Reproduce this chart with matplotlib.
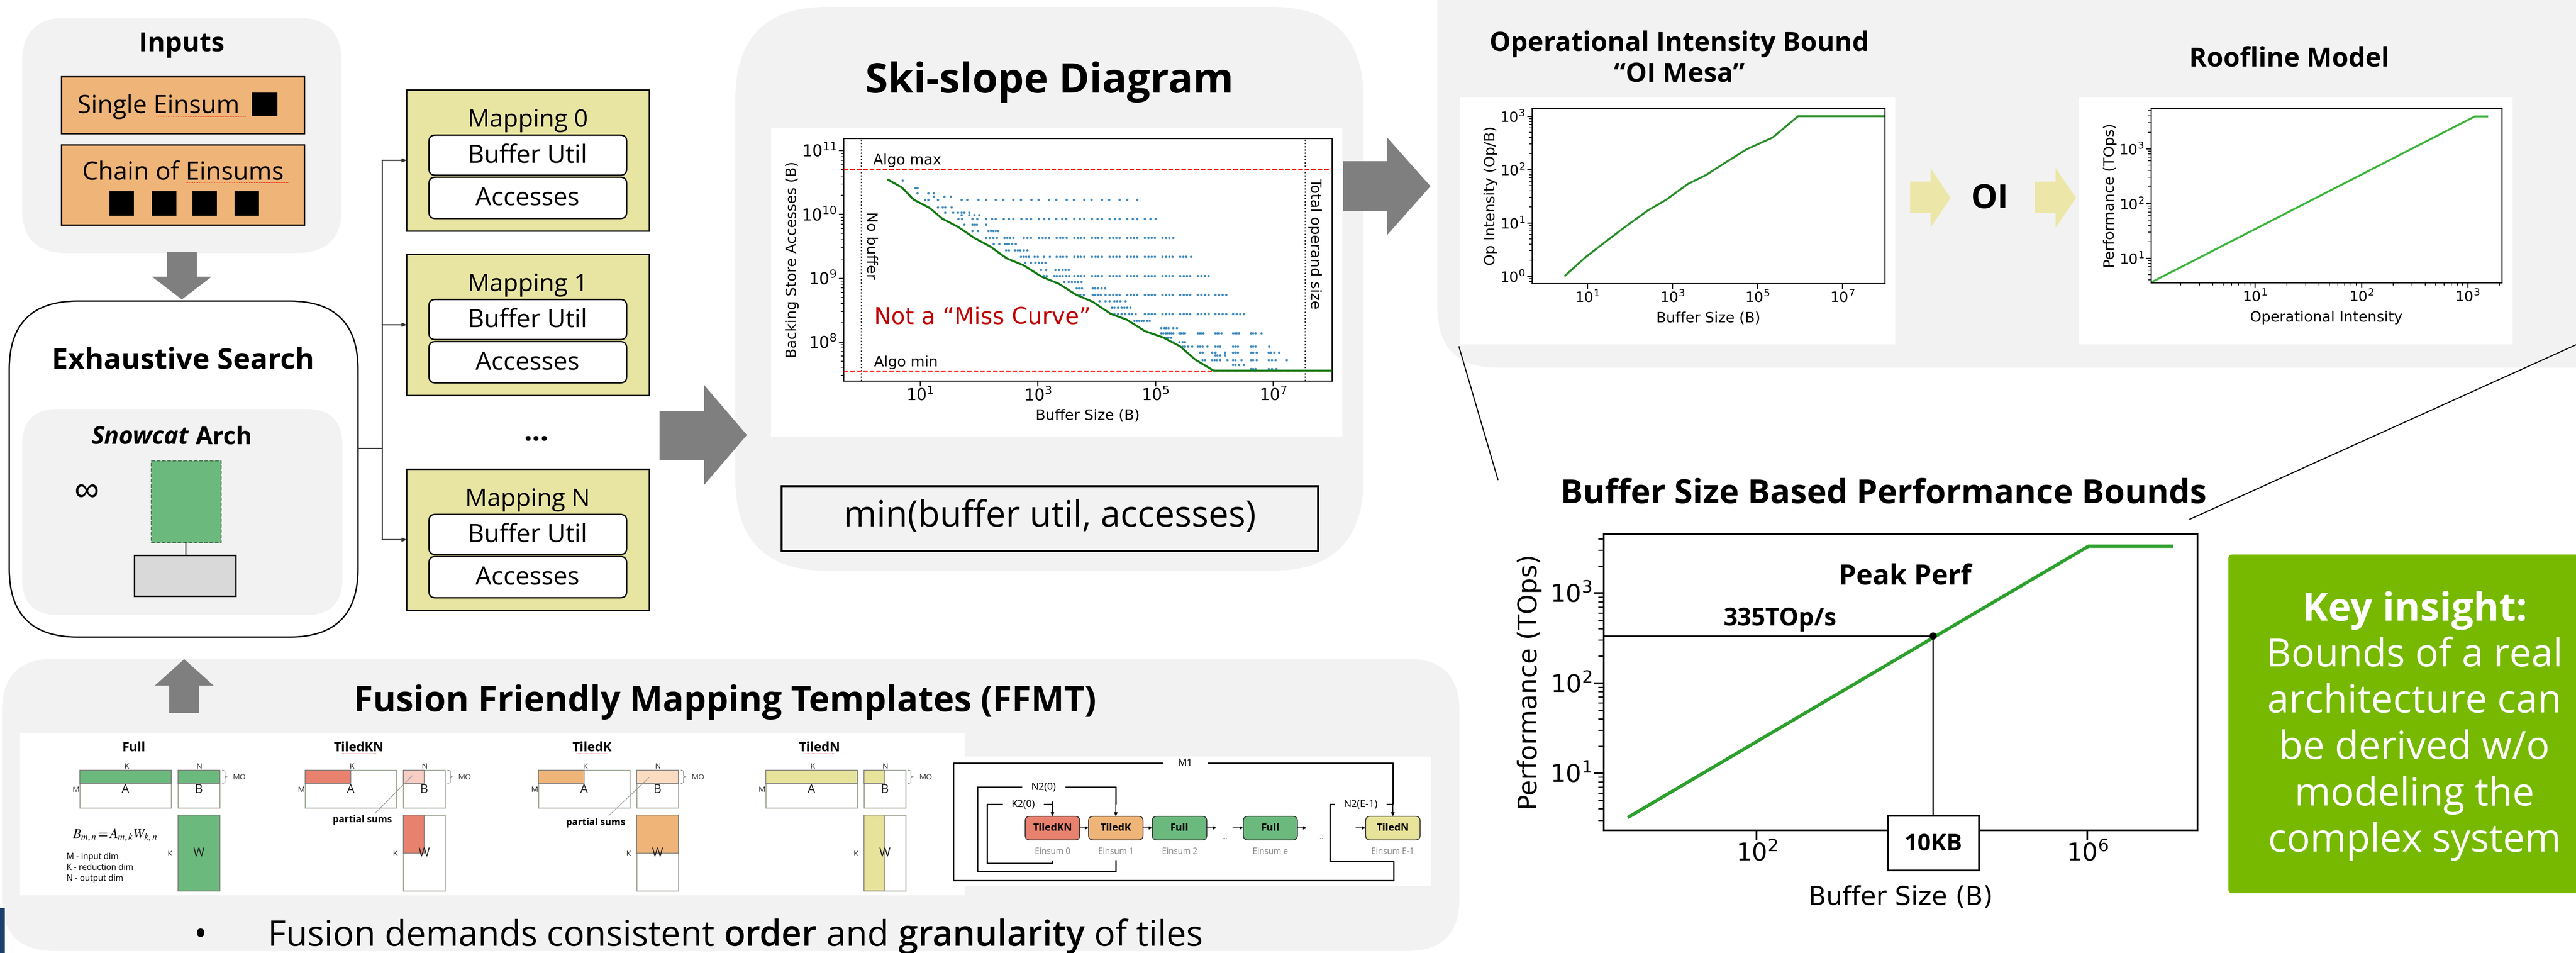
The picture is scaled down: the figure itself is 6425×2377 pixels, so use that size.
import numpy as np
import matplotlib
matplotlib.use('Agg')
import matplotlib.pyplot as plt
from matplotlib.patches import FancyBboxPatch, Rectangle, Polygon
from matplotlib.ticker import NullLocator

# canvas in pixels
W, H = 6425, 2377
SLIDE = ['Open Sans', 'DejaVu Sans']
PANEL = '#f2f2f2'
ARROW = '#7f7f7f'
C_GREEN = '#6cb97e'
C_RED = '#e8826e'
C_ORANGE = '#efb478'
C_YELLOW = '#e8e39b'

# ---------------- data ----------------
# ski-slope: min accesses per buffer size (log10 values)
ski_logx = [0.46, 0.69, 0.89, 1.16, 1.38, 1.65, 1.92, 2.20, 2.47, 2.76, 3.07,
            3.36, 3.65, 3.93, 4.24, 4.51, 4.82, 5.13, 5.42, 5.68, 5.99, 8.0]
ski_logy = [10.54, 10.42, 10.23, 10.10, 9.93, 9.80, 9.63, 9.49, 9.31, 9.20, 9.02,
            8.91, 8.74, 8.63, 8.44, 8.35, 8.17, 8.07, 7.93, 7.72, 7.55, 7.55]
algo_max = 5.1e10
algo_min = 3.5e7
no_buffer = 1.0
total_operand = 3.5e7

# individual mappings (log10 accesses per row, log10 buffer sizes)
scatter_logy = [10.53, 10.41, 10.33, 10.28, 10.23,
                10.11, 10.03, 9.99, 9.93,
                9.84, 9.74, 9.635,
                9.54, 9.44, 9.334,
                9.24, 9.13, 9.035,
                8.94, 8.84, 8.74,
                8.64, 8.54, 8.436,
                8.33, 8.22, 8.136,
                8.07, 8.00, 7.932,
                7.836, 7.79, 7.715, 7.64, 7.578]
scatter_logx = [
    [0.70], [0.92, 0.95], [0.95, 1.14, 1.23], [1.23, 1.41, 1.52],
    [1.08, 1.14, 1.30, 1.70, 1.80, 1.99, 2.12, 2.28, 2.41, 2.58, 2.71, 2.89, 3.01, 3.19,
     3.31, 3.49, 3.61, 3.79, 3.91, 4.09, 4.21, 4.39, 4.52, 4.69],
    [1.30, 1.38, 1.42, 1.53], [1.42, 1.56, 1.64, 1.70, 1.75, 1.83], [1.70, 1.83, 1.92, 2.00],
    [1.65, 1.71, 1.89, 1.97, 2.12, 2.22, 2.28, 2.42, 2.51, 2.58, 2.72, 2.81, 2.88, 3.02, 3.11,
     3.19, 3.31, 3.41, 3.48, 3.62, 3.71, 3.79, 3.92, 4.01, 4.09, 4.22, 4.31, 4.39, 4.52, 4.61,
     4.69, 4.82, 4.91, 5.00],
    [1.75, 1.89, 1.93, 1.96, 2.12], [1.89, 1.98, 2.16, 2.20, 2.24, 2.28, 2.32],
    [2.12, 2.18, 2.24, 2.30, 2.43, 2.48, 2.53, 2.58, 2.76, 2.82, 2.88, 3.02, 3.08, 3.13, 3.19,
     3.32, 3.38, 3.43, 3.49, 3.62, 3.68, 3.73, 3.79, 3.92, 3.98, 4.03, 4.09, 4.22, 4.28, 4.33,
     4.39, 4.52, 4.58, 4.63, 4.69, 4.82, 4.88, 4.93, 4.99, 5.12, 5.18, 5.23, 5.30],
    [2.25, 2.34, 2.44, 2.47, 2.51, 2.56, 2.62], [2.46, 2.51, 2.61, 2.66, 2.70, 2.76, 2.82],
    [2.71, 2.76, 2.80, 2.85, 2.94, 3.00, 3.10, 3.20, 3.32, 3.38, 3.43, 3.49, 3.62, 3.68, 3.73,
     3.79, 3.92, 3.98, 4.03, 4.09, 4.22, 4.28, 4.33, 4.39, 4.52, 4.58, 4.63, 4.69, 4.82, 4.88,
     4.93, 4.99, 5.12, 5.18, 5.23, 5.29, 5.42, 5.47, 5.52, 5.60],
    [2.78, 2.88, 2.96, 3.02, 3.07, 3.13], [3.05, 3.14, 3.30, 3.36, 3.42, 3.47, 3.52],
    [3.10, 3.15, 3.28, 3.32, 3.37, 3.42, 3.48, 3.53, 3.62, 3.68, 3.73, 3.79, 3.92, 3.98, 4.03,
     4.09, 4.22, 4.28, 4.33, 4.39, 4.52, 4.58, 4.63, 4.69, 4.82, 4.88, 4.93, 4.99, 5.12, 5.18,
     5.23, 5.29, 5.42, 5.48, 5.53, 5.59, 5.72, 5.78, 5.84, 5.90],
    [3.45, 3.52, 3.58, 3.63, 3.68, 3.74], [3.66, 3.70, 3.75, 3.93, 3.97, 4.02, 4.08, 4.14],
    [3.72, 3.78, 3.93, 3.97, 4.02, 4.07, 4.15, 4.22, 4.28, 4.33, 4.39, 4.52, 4.58, 4.63, 4.69,
     4.82, 4.88, 4.93, 4.99, 5.12, 5.18, 5.23, 5.29, 5.42, 5.48, 5.53, 5.59, 5.72, 5.78, 5.84,
     5.90, 6.02, 6.08, 6.14, 6.20],
    [4.05, 4.15, 4.22, 4.30, 4.35, 4.40, 4.49], [4.26, 4.30, 4.36, 4.42, 4.47, 4.52, 4.57],
    [4.30, 4.36, 4.42, 4.48, 4.55, 4.60, 4.66, 4.82, 4.88, 4.93, 4.99, 5.12, 5.18, 5.23, 5.29,
     5.42, 5.48, 5.53, 5.59, 5.72, 5.78, 5.84, 5.90, 6.02, 6.08, 6.14, 6.20, 6.32, 6.38, 6.44,
     6.50],
    [4.64, 4.68, 4.72, 4.76, 4.80, 4.86, 4.90], [5.10, 5.15, 5.18, 5.22, 5.30, 5.36],
    [5.10, 5.13, 5.17, 5.20, 5.23, 5.27, 5.30, 5.40, 5.43, 5.47, 5.50, 5.72, 5.75, 5.78, 5.81,
     6.02, 6.05, 6.08, 6.12, 6.32, 6.35, 6.38, 6.42, 6.62, 6.66, 6.70, 6.80],
    [5.16, 5.19, 5.22, 5.26], [5.30, 5.40, 5.46, 5.50],
    [5.46, 5.50, 5.55, 5.62, 5.72, 5.76, 5.80, 5.88, 6.02, 6.06, 6.10, 6.32, 6.36, 6.40, 6.62,
     6.66, 6.70, 6.93],
    [5.76, 5.80, 5.96, 6.02, 6.18, 6.32, 6.36, 6.40, 6.62, 6.66, 6.72, 6.92, 6.96, 7.02, 7.10],
    [6.02, 6.05, 6.10, 6.18],
    [5.80, 5.84, 5.96, 6.00, 6.04, 6.10, 6.22, 6.32, 6.36, 6.46, 6.62, 6.66, 6.72, 6.92, 6.98,
     7.04, 7.23],
    [6.32, 6.36, 6.42, 6.50],
    [6.62, 6.66, 6.70, 6.92, 6.98, 7.05],
]

# OI mesa (log10)
oi_logx = [0.48, 0.95, 1.47, 1.90, 2.42, 2.85, 3.37, 3.80, 4.23, 4.75, 5.36, 5.96, 8.0]
oi_logy = [0.01, 0.35, 0.67, 0.93, 1.23, 1.43, 1.73, 1.90, 2.12, 2.38, 2.60, 3.00, 3.00]

# roofline
roof_oi = [1.05, 1170, 1530]
roof_perf = [3.6, 3900, 3900]

# buffer-size based bound
bound_buf = [2.86, 1.035e6, 1.05e7]
bound_perf = [3.27, 3311, 3311]
peak_buf = 1.35e4
peak_perf = 335

mappings = ['Mapping 0', 'Mapping 1', 'Mapping N']
ffmt_names = ['Full', 'TiledKN', 'TiledK', 'TiledN']
ffmt_colors = [C_GREEN, C_RED, C_ORANGE, C_YELLOW]
ffmt_light = [C_GREEN, '#f7cdc4', '#fbdcc0', C_YELLOW]
a_band = [1.0, 0.5, 0.5, 1.0]
b_band = [1.0, 0.5, 1.0, 0.5]
w_frac = [(1.0, 1.0), (0.5, 0.5), (1.0, 0.5), (0.5, 1.0)]
einsum_names = ['TiledKN', 'TiledK', 'Full', 'Full', 'TiledN']
einsum_colors = [C_RED, C_ORANGE, C_GREEN, C_GREEN, C_YELLOW]
einsum_labels = ['Einsum 0', 'Einsum 1', 'Einsum 2', 'Einsum e', 'Einsum E-1']
insight = ['Bounds of a real', 'architecture can', 'be derived w/o',
           'modeling the', 'complex system']


def frac(x0, y0, x1, y1):
    return [x0 / W, 1 - y1 / H, (x1 - x0) / W, (y1 - y0) / H]


def rbox(ax, x0, y0, x1, y1, r=0, fc='none', ec='none', lw=0, ls='-', z=1):
    style = f"round,pad=0,rounding_size={r}" if r else "square,pad=0"
    ax.add_patch(FancyBboxPatch((x0, y0), x1 - x0, y1 - y0, boxstyle=style,
                                fc=fc, ec=ec, lw=lw, ls=ls, zorder=z))


def txt(ax, x, y, s, size, weight='normal', color='black', ha='center', va='baseline', **kw):
    return ax.text(x, y, s, fontsize=size, fontweight=weight, color=color, ha=ha, va=va,
                   family=SLIDE, zorder=5, **kw)


def arrow_right(ax, sx0, sx1, sy0, sy1, tip, hy0, hy1, color):
    ty = (hy0 + hy1) / 2
    ax.add_patch(Polygon([(sx0, sy0), (sx1, sy0), (sx1, hy0), (tip, ty), (sx1, hy1),
                          (sx1, sy1), (sx0, sy1)], closed=True, fc=color, ec='none', zorder=2))


def arrow_vert(ax, sx0, sx1, sy0, sy1, tip, hx0, hx1, color):
    tx = (hx0 + hx1) / 2
    ax.add_patch(Polygon([(sx0, sy0), (sx0, sy1), (hx0, sy1), (tx, tip), (hx1, sy1),
                          (sx1, sy1), (sx1, sy0)], closed=True, fc=color, ec='none', zorder=2))


def small_arrow(ax, x0, y0, x1, y1, lw=2, color='black', ms=18):
    ax.annotate('', xy=(x1, y1), xytext=(x0, y0),
                arrowprops=dict(arrowstyle='-|>', color=color, lw=lw, mutation_scale=ms,
                                shrinkA=0, shrinkB=0), zorder=4)


fig = plt.figure(figsize=(W / 100, H / 100), dpi=100)
bg = fig.add_axes([0, 0, 1, 1])
bg.set_xlim(0, W)
bg.set_ylim(H, 0)
bg.axis('off')

# ---------------- left column ----------------
rbox(bg, 55, 44, 852, 631, r=110, fc=PANEL)
txt(bg, 453, 128, 'Inputs', 48, 'bold')
rbox(bg, 153, 191, 759, 333, fc=C_ORANGE, ec='black', lw=2.5, z=2)
rbox(bg, 153, 361, 759, 561, fc=C_ORANGE, ec='black', lw=2.5, z=2)
txt(bg, 193, 282, 'Single Einsum', 45, ha='left')
bg.plot([390, 614], [290, 290], color='red', ls=(0, (1, 1)), lw=1.5, zorder=6)
bg.add_patch(Rectangle((628, 231), 64, 59, fc='black', zorder=3))
txt(bg, 456, 447, 'Chain of Einsums', 45)
bg.plot([463, 720], [455, 455], color='red', ls=(0, (1, 1)), lw=1.5, zorder=6)
for sx in [273, 379, 480, 585]:
    bg.add_patch(Rectangle((sx, 477), 61, 61, fc='black', zorder=3))

arrow_vert(bg, 416, 491, 629, 690, 747, 379, 528, ARROW)

rbox(bg, 23, 751, 893, 1589, r=170, fc='white', ec='black', lw=2.5)
txt(bg, 456, 920, 'Exhaustive Search', 52, 'bold')
rbox(bg, 55, 1020, 854, 1534, r=90, fc=PANEL, z=2)
t_snow = txt(bg, 228, 1107, 'Snowcat', 44, 'bold', ha='left', style='italic')
bg.annotate('Arch', xy=(1, 0), xycoords=t_snow, xytext=(12, 0), textcoords='offset points',
            fontsize=44, fontweight='bold', family=SLIDE, ha='left', va='bottom', zorder=5)
bg.text(216, 1226, '\u221e', fontsize=62, ha='center', va='center', zorder=5,
        family=['Liberation Sans', 'DejaVu Sans'])
rbox(bg, 377, 1149, 551, 1353, fc=C_GREEN, ec='#3f6f4a', lw=1.8, ls='--', z=3)
bg.plot([463, 463], [1353, 1385], color='black', lw=1.8, zorder=3)
rbox(bg, 335, 1385, 588, 1487, fc='#d9d9d9', ec='black', lw=2.5, z=3)

# tree to mappings
map_tops = [224, 634, 1170]
bg.plot([893, 953], [1118, 1118], color='#333333', lw=2.2, zorder=3)
bg.plot([953, 953], [400, 1344], color='#333333', lw=2.2, zorder=3)
for name, y0 in zip(mappings, map_tops):
    yc = y0 + 176
    small_arrow(bg, 953, yc, 1014, yc, lw=2.2, color='#333333', ms=14)
    rbox(bg, 1014, y0, 1619, y0 + 352, fc='#e8e4a2', ec='black', lw=2.5, z=2)
    txt(bg, 1316, y0 + 92, name, 44)
    rbox(bg, 1070, y0 + 113, 1563, y0 + 213, r=16, fc='white', ec='black', lw=2.5, z=3)
    rbox(bg, 1070, y0 + 218, 1563, y0 + 321, r=16, fc='white', ec='black', lw=2.5, z=3)
    txt(bg, 1316, y0 + 181, 'Buffer Util', 45)
    txt(bg, 1316, y0 + 288, 'Accesses', 45)
txt(bg, 1338, 1100, '...', 52, 'bold')

arrow_right(bg, 1645, 1756, 1026, 1147, 1863, 960, 1210, ARROW)

# ---------------- ski-slope panel ----------------
rbox(bg, 1834, 17, 3401, 1424, r=230, fc=PANEL)
txt(bg, 2617, 231, 'Ski-slope Diagram', 74, 'bold')
rbox(bg, 1923, 319, 3348, 1090, fc='white', z=2)
rbox(bg, 1949, 1212, 3287, 1374, fc='none', ec='black', lw=3.5, z=3)
txt(bg, 2618, 1313, 'min(buffer util, accesses)', 64)

arrow_right(bg, 3350, 3459, 402, 527, 3568, 342, 587, ARROW)

# ---------------- OI / roofline panel ----------------
rbox(bg, 3585, -400, 6700, 917, r=150, fc=PANEL)
txt(bg, 4188, 127, 'Operational Intensity Bound', 48, 'bold')
txt(bg, 4188, 204, '\u201cOI Mesa\u201d', 48, 'bold')
txt(bg, 5710, 166, 'Roofline Model', 48, 'bold')
rbox(bg, 3642, 242, 4727, 859, fc='white', z=2)
rbox(bg, 5185, 242, 6267, 859, fc='white', z=2)
arrow_right(bg, 4764, 4815, 453, 531, 4865, 419, 568, '#ece7a8')
arrow_right(bg, 5075, 5127, 453, 531, 5178, 419, 568, '#ece7a8')
txt(bg, 4962, 519, 'OI', 60, 'bold')

# ---------------- bottom right ----------------
txt(bg, 4698, 1255, 'Buffer Size Based Performance Bounds', 60, 'bold')
rbox(bg, 5558, 1383, 6460, 2228, r=10, fc='#76b900')
txt(bg, 6022, 1548, 'Key insight:', 70, 'bold', color='white')
for i, line in enumerate(insight):
    txt(bg, 6022, 1662 + 115.5 * i, line, 70, color='white')

# ---------------- FFMT panel ----------------
rbox(bg, 5, 1643, 3640, 2372, r=130, fc=PANEL)
arrow_vert(bg, 422, 496, 1778, 1710, 1644, 386, 533, ARROW)
txt(bg, 1808, 1774, 'Fusion Friendly Mapping Templates (FFMT)', 63, 'bold')
rbox(bg, 50, 1828, 2406, 2233, fc='white', z=2)
rbox(bg, 2406, 1887, 3569, 2210, fc='white', z=2)
bg.add_patch(Rectangle((0, 2265), 12, 112, fc='#1b3f6b', zorder=3))

col_x = [199, 761, 1343, 1910]
edge = '#9aa592'
for k in range(4):
    x0 = col_x[k]
    col = ffmt_colors[k]
    txt(bg, x0 + 134, 1874, ffmt_names[k], 23, 'bold')
    if k > 0:
        half = 6.5 * len(ffmt_names[k])
        bg.plot([x0 + 134 - half, x0 + 134 + half], [1880, 1880], color='red',
                ls=(0, (1, 1)), lw=1.2, zorder=6)
    # A and B
    rbox(bg, x0, 1921, x0 + 228, 2015, fc='white', ec=edge, lw=1.8, z=3)
    rbox(bg, x0 + 245, 1921, x0 + 349, 2015, fc='white', ec=edge, lw=1.8, z=3)
    rbox(bg, x0, 1921, x0 + 228 * a_band[k], 1954, fc=col, ec='#777777', lw=1.2, z=4)
    rbox(bg, x0 + 245, 1921, x0 + 245 + 104 * b_band[k], 1954, fc=ffmt_light[k],
         ec='#777777', lw=1.2, z=4)
    # W
    rbox(bg, x0 + 245, 2033, x0 + 349, 2222, fc='white', ec=edge, lw=1.8, z=3)
    fw, fh = w_frac[k]
    rbox(bg, x0 + 245, 2033, x0 + 245 + 104 * fw, 2033 + 189 * fh, fc=col, ec='#777777',
         lw=1.2, z=4)
    for s, x, y, fs in [('K', x0 + 116, 1912, 14), ('N', x0 + 297, 1912, 14), ('M', x0 - 10, 1970, 14),
                        ('A', x0 + 114, 1970, 22), ('B', x0 + 297, 1970, 22),
                        ('W', x0 + 297, 2128, 22), ('K', x0 + 224, 2130, 14)]:
        bg.text(x, y, s, fontsize=fs, ha='center', va='center', family=SLIDE, zorder=6,
                color='#222222')
    bg.plot([x0 + 356, x0 + 362, x0 + 362, x0 + 368, x0 + 362, x0 + 362, x0 + 356],
            [1921, 1923, 1936, 1938, 1940, 1952, 1954], color='#777777', lw=1.2, zorder=4)
    bg.text(x0 + 398, 1939, 'MO', fontsize=14, ha='center', va='center', family=SLIDE,
            color='#333333', zorder=6)

bg.text(287, 2083, r'$B_{m,n} = A_{m,k}W_{k,n}$', fontsize=24, ha='center', va='center',
        math_fontfamily='stix', zorder=6)
for i, s in enumerate(['M - input dim', 'K - reduction dim', 'N - output dim']):
    bg.text(166, 2137 + 27.5 * i, s, fontsize=15, ha='left', va='center', family=SLIDE, zorder=6)
for (lx, ly), (px, py) in [((904, 2045), (1028, 1935)), ((1486, 2052), (1619, 1939))]:
    bg.plot([lx + 33, px], [ly - 18, py], color='#999999', lw=1.2, zorder=5)
    bg.text(lx, ly, 'partial sums', fontsize=17, fontweight='bold', ha='center', va='center',
            family=SLIDE, zorder=6)

# M1 loop diagram
lw_m = 2.4
loops = [
    ([2900, 2378, 2378, 3476, 3476], [1903, 1903, 2196, 2196, 2148]),
    ([3012, 3474, 3474], [1903, 1903, 2006]),
    ([2549, 2438, 2438, 2783, 2783], [1963, 1963, 2173, 2173, 2145]),
    ([2657, 2783, 2783], [1963, 1963, 2006]),
    ([2501, 2462, 2462, 2625, 2625], [2006, 2006, 2153, 2153, 2146]),
    ([2603, 2625], [2006, 2006]),
    ([3329, 3317, 3317, 3476], [2006, 2006, 2148, 2148]),
    ([3458, 3474], [2006, 2006]),
]
for xs, ys in loops:
    bg.plot(xs, ys, color='black', lw=lw_m, zorder=4, solid_capstyle='butt')
for x in [3474, 2783, 2625]:
    small_arrow(bg, x, 2000, x, 2036, lw=1.6, ms=12)
for s, x, y in [('M1', 2956, 1903), ('N2(0)', 2603, 1963), ('K2(0)', 2552, 2006),
                ('N2(E-1)', 3394, 2006)]:
    bg.text(x, y, s, fontsize=18, ha='center', va='center', family=SLIDE, zorder=6)
box_x = [(2557, 2693), (2715, 2851), (2874, 3010), (3101, 3236), (3406, 3542)]
for (a, b), name, col, lab in zip(box_x, einsum_names, einsum_colors, einsum_labels):
    rbox(bg, a, 2036, b, 2095, r=12, fc=col, ec='#333333', lw=1.6, z=4)
    bg.text((a + b) / 2, 2066, name, fontsize=18, fontweight='bold', ha='center', va='center',
            family=SLIDE, zorder=6)
    bg.text((a + b) / 2, 2125, lab, fontsize=15, ha='center', va='center', family=SLIDE,
            color='#808080', zorder=6)
for a, b in [(2693, 2715), (2851, 2874), (3010, 3034), (3075, 3101), (3236, 3259), (3382, 3406)]:
    small_arrow(bg, a, 2065, b, 2065, lw=1.6, ms=10)
for x in [3055, 3294]:
    bg.text(x, 2088, '...', fontsize=10, ha='center', va='center', color='#666666', zorder=6)

t_b = txt(bg, 668, 2359, 'Fusion demands consistent', 63, ha='left')
txt(bg, 500, 2359, '\u2022', 63)
prev = t_b
for s, wgt in [('order', 'semibold'), ('and', 'normal'), ('granularity', 'semibold'),
               ('of tiles', 'normal')]:
    prev = bg.annotate(s, xy=(1, 0), xycoords=prev, xytext=(17, 0), textcoords='offset points',
                       fontsize=63, fontweight=wgt, family=SLIDE, ha='left', va='bottom', zorder=5)

# ---------------- charts ----------------
def style(ax, fs, lw=2, length=9):
    ax.tick_params(labelsize=fs, width=lw, length=length)
    ax.tick_params(which='minor', width=lw * 0.7, length=length * 0.55)
    for sp in ax.spines.values():
        sp.set_linewidth(lw)


# ski-slope
a1 = fig.add_axes(frac(2104, 345, 3322, 950))
a1.set_xscale('log')
a1.set_yscale('log')
for ly, lxs in zip(scatter_logy, scatter_logx):
    a1.scatter(10 ** np.array(lxs), np.full(len(lxs), 10 ** ly), s=18, color='#1f77b4',
               alpha=0.85, lw=0, zorder=2)
a1.plot(10 ** np.array(ski_logx), 10 ** np.array(ski_logy), color='#127a12', lw=3.6, zorder=4)
a1.axhline(algo_max, color='red', ls='--', lw=2.2, zorder=3)
a1.axhline(algo_min, color='red', ls='--', lw=2.2, zorder=3)
a1.axvline(no_buffer, color='black', ls=':', lw=2.2)
a1.axvline(total_operand, color='black', ls=':', lw=2.2)
a1.set_xlim(0.5, 1e8)
a1.set_ylim(2.45e7, 1.55e11)
a1.set_xticks([1e1, 1e3, 1e5, 1e7])
a1.xaxis.set_minor_locator(NullLocator())
a1.text(1.6, algo_max * 1.07, 'Algo max', fontsize=26, va='bottom')
a1.text(1.66, algo_min * 1.07, 'Algo min', fontsize=26, va='bottom')
a1.text(1.13, 1.1e10, 'No buffer', fontsize=26, rotation=270, ha='left', va='top')
a1.text(3.9e7, 3.7e10, 'Total operand size', fontsize=26, rotation=270, ha='left', va='top')
a1.text(1.66, 10 ** 8.38, 'Not a \u201cMiss Curve\u201d', fontsize=41, color='#c00000',
        va='center')
a1.set_xlabel('Buffer Size (B)', fontsize=26, labelpad=8)
a1.set_ylabel('Backing Store Accesses (B)', fontsize=26)
style(a1, 29)

# OI mesa
a2 = fig.add_axes(frac(3821, 270, 4701, 707))
a2.set_xscale('log')
a2.set_yscale('log')
a2.plot(10 ** np.array(oi_logx), 10 ** np.array(oi_logy), color='#2a8f2a', lw=3.5)
a2.set_xlim(0.5, 1e8)
a2.set_ylim(0.73, 1410)
a2.set_xticks([1e1, 1e3, 1e5, 1e7])
a2.xaxis.set_minor_locator(NullLocator())
a2.set_xlabel('Buffer Size (B)', fontsize=26, labelpad=12)
a2.set_ylabel('Op Intensity (Op/B)', fontsize=26)
style(a2, 26)

# roofline
a3 = fig.add_axes(frac(5365, 270, 6240, 705))
a3.set_xscale('log')
a3.set_yscale('log')
a3.plot(roof_oi, roof_perf, color='#3cb43c', lw=3.5)
a3.set_xlim(1.05, 2100)
a3.set_ylim(3.57, 5500)
a3.set_xlabel('Operational Intensity', fontsize=26, labelpad=12)
a3.set_ylabel('Performance (TOps)', fontsize=26)
style(a3, 26)

# buffer-size based bound
a4 = fig.add_axes(frac(4000, 1332, 5481, 2071))
a4.set_xscale('log')
a4.set_yscale('log')
a4.plot(bound_buf, bound_perf, color='#2ca02c', lw=6)
a4.set_xlim(1.41, 2.16e7)
a4.set_ylim(2.31, 4520)
a4.plot([1.41, peak_buf], [peak_perf, peak_perf], color='black', lw=2.5)
a4.plot([peak_buf, peak_buf], [peak_perf, 3.0], color='black', lw=2.5)
a4.plot([peak_buf], [peak_perf], 'o', color='black', ms=12, zorder=5)
a4.set_xticks([1e2, 1e6])
a4.xaxis.set_minor_locator(NullLocator())
a4.set_xlabel('Buffer Size (B)', fontsize=46, labelpad=34)
a4.set_ylabel('Performance (TOps)', fontsize=46, labelpad=14)
style(a4, 44, lw=3, length=18)

# ---------------- top overlay ----------------
top = fig.add_axes([0, 0, 1, 1], zorder=10)
top.set_xlim(0, W)
top.set_ylim(H, 0)
top.axis('off')
top.plot([3639, 3736], [865, 1196], color='black', lw=2)
top.plot([6425, 5462], [860, 1295], color='black', lw=2)
txt(top, 4751, 1458, 'Peak Perf', 50, 'bold')
txt(top, 4440, 1560, '335TOp/s', 44, 'bold')
rbox(top, 4709, 2035, 4936, 2171, fc='white', ec='black', lw=3, z=5)
txt(top, 4822, 2122, '10KB', 42, 'bold')

fig.savefig('out.png', dpi=100)
